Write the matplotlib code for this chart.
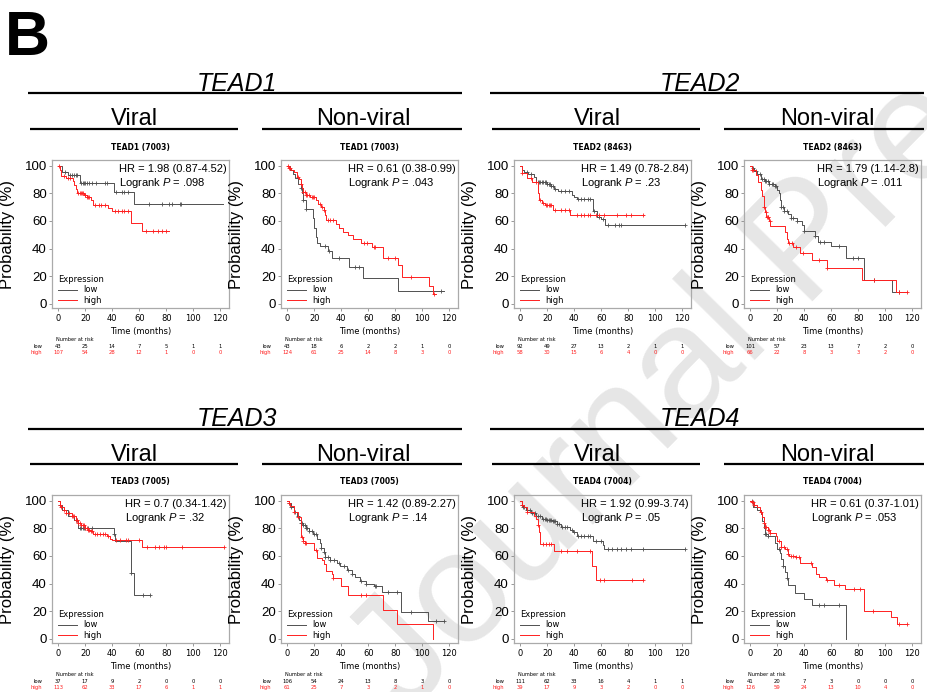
import numpy as np
import matplotlib
matplotlib.use("Agg")
import matplotlib.pyplot as plt
from matplotlib.lines import Line2D

# ---- data (time in months, survival in %) ----
risk_times = [0, 20, 40, 60, 80, 100, 120]

# TEAD1 viral
t1v_low_t = [0, 3, 7, 16, 41, 56, 122]
t1v_low_s = [100, 95.5, 93, 87.3, 81, 72.5, 72.5]
t1v_low_c = [5, 9, 10, 12, 13, 14, 17, 18, 19, 20, 21, 23, 25, 28, 35, 36, 43, 47, 49, 52, 67, 77, 82, 84, 90, 91]
t1v_high_t = [0, 1, 2, 6, 11, 12, 13, 14, 19, 21, 24, 26, 37, 40, 54, 62, 82]
t1v_high_s = [100, 97, 92.5, 91, 89, 86, 83, 80, 79, 77.5, 75, 71.5, 69, 67, 58.5, 52.5, 52.5]
t1v_high_c = [0.5, 4, 7, 9, 15, 16, 17, 17.5, 18, 19.5, 20, 21.5, 22, 23, 27, 30, 32, 35, 42, 44, 47, 49, 52, 65, 70, 74, 77, 80]
t1v_risk_low = [43, 25, 14, 7, 5, 1, 1]
t1v_risk_high = [107, 54, 28, 12, 1, 0, 0]

# TEAD1 non-viral
t1n_low_t = [0, 2, 4, 6, 8, 10, 11, 12, 14, 19, 20, 21, 22, 24, 30, 33, 46, 56, 82, 116]
t1n_low_s = [100, 97, 94, 91, 87, 84, 80, 75, 68.5, 62, 55, 48, 44, 41.5, 38, 33, 27, 18.5, 9, 9]
t1n_low_c = [10, 12, 14, 28, 31, 38, 50, 53, 114]
t1n_high_t = [0, 1, 3, 5, 7, 9, 10, 11, 12, 14, 17, 21, 23, 25, 27, 28, 29, 36, 38, 41, 45, 49, 55, 63, 71, 82, 85, 105, 108, 110]
t1n_high_s = [100, 98.5, 97, 95, 92, 90, 87, 84, 81, 79, 77, 75, 72.5, 70, 68, 64, 60.5, 58, 55, 52, 49.5, 47, 44, 41, 33.5, 28, 19.5, 13, 7, 7]
t1n_high_c = [0.5, 1.5, 2, 8, 10.5, 12, 13, 14, 15, 16, 18, 19, 20, 24, 26, 27.5, 30, 32, 34, 57, 59, 64, 65, 75, 80, 92, 109]
t1n_risk_low = [43, 18, 6, 2, 2, 1, 0]
t1n_risk_high = [124, 61, 25, 14, 8, 3, 0]

# TEAD2 viral
t2v_low_t = [0, 1, 3, 6, 10, 12, 20, 23, 25, 28, 38, 40, 42, 54, 57, 60, 63, 122]
t2v_low_s = [100, 97, 95, 94, 92, 88.4, 87, 85, 83, 81.4, 79, 77, 75.8, 67, 62.8, 61, 56.8, 56.8]
t2v_low_c = [5, 8, 13, 14, 15, 16, 17, 18, 19, 20, 21, 22, 23, 24, 26, 30, 33, 36, 43, 45, 47, 50, 52, 55, 58, 61, 65, 70, 73, 75, 122]
t2v_high_t = [0, 1, 5, 9, 13, 14, 16, 18, 24, 37, 92]
t2v_high_s = [100, 94.5, 91, 88, 80, 75, 73, 71.5, 68, 64, 64]
t2v_high_c = [1, 8, 12, 15, 17, 19, 20, 21, 22, 23, 26, 30, 33, 36, 42, 45, 47, 50, 52, 56, 58, 62, 72, 78, 82, 91]
t2v_risk_low = [92, 49, 27, 13, 2, 1, 1]
t2v_risk_high = [58, 30, 15, 6, 4, 0, 0]

# TEAD2 non-viral
t2n_low_t = [0, 1, 3, 5, 8, 11, 14, 18, 20, 21, 22, 23, 25, 28, 30, 35, 38, 40, 48, 50, 60, 71, 84, 105, 116]
t2n_low_s = [100, 98, 96, 94, 90, 88.5, 87, 85, 82, 80, 75, 70, 67, 65, 62, 60, 57, 53, 49, 45, 42, 33.5, 17, 8.5, 8.5]
t2n_low_c = [2, 4, 7, 9, 10, 11, 12, 13, 14, 16, 17, 18, 19, 23, 24, 25, 27, 30, 32, 35, 40, 48, 52, 55, 66, 76, 80, 92, 110]
t2n_high_t = [0, 1, 4, 6, 8, 9, 10, 11, 12, 14, 15, 26, 27, 28, 32, 37, 46, 57, 83, 108, 116]
t2n_high_s = [100, 97, 93, 88, 82.5, 78, 70, 66.5, 63, 60, 56.6, 52, 47, 43.7, 41, 37, 31.5, 25.7, 17, 8.5, 8.5]
t2n_high_c = [1, 2, 10.5, 11.5, 12.5, 13, 13.5, 14.5, 29, 31, 34, 39, 51, 57, 92, 110, 116]
t2n_risk_low = [101, 57, 23, 13, 7, 2, 0]
t2n_risk_high = [66, 22, 8, 3, 3, 2, 0]

# TEAD3 viral
t3v_low_t = [0, 1, 3, 7, 12, 15, 41, 42, 54, 56, 68]
t3v_low_s = [100, 96.5, 93, 89, 86, 80.5, 75.5, 71, 47.5, 31.5, 31.5]
t3v_low_c = [1, 13, 14, 16, 17, 18, 19, 20, 22, 25, 41, 54, 63, 68]
t3v_high_t = [0, 1, 2, 4, 6, 10, 13, 15, 17, 20, 22, 24, 26, 36, 38, 40, 62, 123]
t3v_high_s = [100, 97, 95, 93, 91, 89, 86, 84, 82, 80, 79, 78, 76, 74, 72, 71.3, 66.7, 66.7]
t3v_high_c = [1, 2, 4, 6, 8, 10, 11, 12, 13, 14, 15, 16, 17, 18, 19, 20, 21, 22, 23, 24, 25, 27, 29, 31, 33, 35, 37,
              43, 46, 50, 52, 60, 66, 72, 75, 78, 80, 92, 123]
t3v_risk_low = [37, 17, 9, 2, 0, 0, 0]
t3v_risk_high = [113, 62, 33, 17, 6, 1, 1]

# TEAD3 non-viral
t3n_low_t = [0, 1, 3, 5, 7, 9, 10, 12, 14, 16, 19, 22, 24, 25, 27, 28, 32, 37, 39, 44, 48, 50, 54, 58, 64, 70, 84, 104, 116]
t3n_low_s = [100, 98, 95, 92, 89, 86, 84, 82, 80, 78, 76, 72, 69, 66, 62.5, 59, 57, 55, 53, 50, 47, 45, 42, 40, 38, 34, 19.6, 12.6, 12.6]
t3n_low_c = [1, 3, 6, 8, 10, 11, 12, 13, 14, 15, 16, 18, 20, 21, 25, 27, 28, 30, 32, 35, 38, 42, 45, 48, 55, 58, 65, 66,
             75, 81, 92, 110, 116]
t3n_high_t = [0, 1, 2, 5, 8, 10, 12, 13, 20, 22, 26, 27, 29, 33, 34, 40, 45, 71, 81, 108]
t3n_high_s = [100, 98, 96, 92, 88, 73.4, 71, 69, 64, 58.8, 57, 54, 49, 47, 44.3, 38.3, 31.7, 20.8, 11, 0]
t3n_high_c = [1, 5, 8, 11, 12, 13, 14, 21, 34, 55, 58]
t3n_risk_low = [106, 54, 24, 13, 8, 3, 0]
t3n_risk_high = [61, 25, 7, 3, 2, 1, 0]

# TEAD4 viral
t4v_low_t = [0, 1, 2, 4, 8, 12, 16, 20, 24, 27, 30, 37, 39, 42, 54, 61, 62, 122]
t4v_low_s = [100, 97, 95, 93, 91, 89, 87, 86, 85, 83, 80.7, 79, 77, 74.2, 70.4, 68, 65.3, 65.3]
t4v_low_c = [1, 2, 3, 5, 7, 9, 11, 13, 15, 17, 18, 19, 20, 21, 22, 23, 24, 25, 26, 27, 29, 31, 33, 35, 38, 40, 43, 45,
             47, 50, 52, 56, 60, 65, 68, 72, 75, 78, 82, 91, 122]
t4v_high_t = [0, 1, 3, 5, 10, 12, 13, 14, 15, 25, 53, 56, 91]
t4v_high_s = [100, 97, 95, 92, 89, 87, 82, 77, 68.7, 63.4, 52.5, 42.2, 42.2]
t4v_high_c = [1, 5, 13, 17, 19, 21, 23, 30, 35, 42, 52, 59, 62, 83, 91]
t4v_risk_low = [111, 62, 33, 16, 4, 1, 1]
t4v_risk_high = [39, 17, 9, 3, 2, 0, 0]

# TEAD4 non-viral
t4n_low_t = [0, 2, 5, 8, 9, 10, 11, 13, 18, 20, 22, 23, 24, 26, 27, 28, 33, 40, 46, 71]
t4n_low_s = [100, 95.5, 93, 90, 85.5, 80, 75.8, 74, 69, 65, 62, 58, 52.8, 48, 43.8, 39, 33.5, 29, 24.2, 0]
t4n_low_c = [1, 11, 12, 13, 21, 24, 27, 51, 55, 66]
t4n_high_t = [0, 1, 3, 5, 7, 9, 10, 11, 13, 15, 19, 20, 23, 26, 28, 29, 34, 37, 46, 49, 51, 56, 62, 70, 84, 104, 109, 116]
t4n_high_s = [100, 99, 97, 95, 92, 88, 84, 81, 79, 76.5, 74, 71, 66.6, 65, 61.3, 60, 59, 54.5, 51.6, 47, 45, 42.4, 39,
              36.3, 20, 15.7, 10.4, 10.4]
t4n_high_c = [1, 2, 3, 8, 10, 11, 12, 13, 14, 15, 21, 23, 25, 27, 28, 30, 32, 34, 36, 45, 57, 66, 77, 81, 91, 110, 116]
t4n_risk_low = [41, 20, 7, 3, 0, 0, 0]
t4n_risk_high = [126, 59, 24, 13, 10, 4, 0]

genes = ["TEAD1", "TEAD2", "TEAD3", "TEAD4"]
probes = ["7003", "8463", "7005", "7004"]
hr_texts = ["HR = 1.98 (0.87-4.52)", "HR = 0.61 (0.38-0.99)", "HR = 1.49 (0.78-2.84)", "HR = 1.79 (1.14-2.8)",
            "HR = 0.7 (0.34-1.42)", "HR = 1.42 (0.89-2.27)", "HR = 1.92 (0.99-3.74)", "HR = 0.61 (0.37-1.01)"]
p_texts = [".098", ".043", ".23", ".011", ".32", ".14", ".05", ".053"]

panels = [
    (t1v_low_t, t1v_low_s, t1v_low_c, t1v_high_t, t1v_high_s, t1v_high_c, t1v_risk_low, t1v_risk_high),
    (t1n_low_t, t1n_low_s, t1n_low_c, t1n_high_t, t1n_high_s, t1n_high_c, t1n_risk_low, t1n_risk_high),
    (t2v_low_t, t2v_low_s, t2v_low_c, t2v_high_t, t2v_high_s, t2v_high_c, t2v_risk_low, t2v_risk_high),
    (t2n_low_t, t2n_low_s, t2n_low_c, t2n_high_t, t2n_high_s, t2n_high_c, t2n_risk_low, t2n_risk_high),
    (t3v_low_t, t3v_low_s, t3v_low_c, t3v_high_t, t3v_high_s, t3v_high_c, t3v_risk_low, t3v_risk_high),
    (t3n_low_t, t3n_low_s, t3n_low_c, t3n_high_t, t3n_high_s, t3n_high_c, t3n_risk_low, t3n_risk_high),
    (t4v_low_t, t4v_low_s, t4v_low_c, t4v_high_t, t4v_high_s, t4v_high_c, t4v_risk_low, t4v_risk_high),
    (t4n_low_t, t4n_low_s, t4n_low_c, t4n_high_t, t4n_high_s, t4n_high_c, t4n_risk_low, t4n_risk_high),
]

LOW_COLOR = "#505050"
HIGH_COLOR = "#ff2020"
ARIAL = "Liberation Sans"

plt.rcParams["font.family"] = "DejaVu Sans"
plt.rcParams["mathtext.fontset"] = "custom"
plt.rcParams["mathtext.rm"] = ARIAL
plt.rcParams["mathtext.it"] = ARIAL + ":italic"

W, H = 928, 692
fig = plt.figure(figsize=(W / 100, H / 100), dpi=100)
fig.patch.set_facecolor("white")


def fy(y):
    return 1 - y / H


def hline(x0, x1, y):
    fig.add_artist(Line2D([x0 / W, x1 / W], [fy(y), fy(y)], transform=fig.transFigure,
                          color="black", lw=1.6, solid_capstyle="butt"))


def km(ax, t, s, cens, color):
    t = np.asarray(t, float)
    s = np.asarray(s, float)
    ax.step(t, s, where="post", color=color, lw=0.7)
    idx = np.searchsorted(t, cens, side="right") - 1
    ax.plot(cens, s[idx], ls="none", marker="+", ms=3.5, mew=0.6, color=color)


# watermark behind everything
fig.text(405 / W, fy(716), "Journal Pre-proof", family=ARIAL, fontsize=115, color="#e6e6e6",
         rotation=45.5, rotation_mode="anchor", ha="left", va="baseline", zorder=-5)

fig.text(5 / W, fy(55), "B", family=ARIAL, fontweight="bold", fontsize=45, ha="left", va="baseline")

# group headers
gene_x = [237, 700]
sub_x = [134, 363, 597, 827]
sub_lines = [(30, 238), (262, 462), (492, 700), (724, 924)]
gene_lines = [(28, 462), (490, 924)]
row_gene_base = [91, 426]
row_gene_line = [93, 429]
row_sub_base = [125, 461]
row_sub_line = [129, 464]
for r in range(2):
    for g in range(2):
        fig.text(gene_x[g] / W, fy(row_gene_base[r]), genes[2 * r + g], family=ARIAL, style="italic",
                 fontsize=18, ha="center", va="baseline")
        hline(gene_lines[g][0], gene_lines[g][1], row_gene_line[r])
    for k in range(4):
        fig.text(sub_x[k] / W, fy(row_sub_base[r]), "Viral" if k % 2 == 0 else "Non-viral", family=ARIAL,
                 fontsize=17, ha="center", va="baseline")
        hline(sub_lines[k][0], sub_lines[k][1], row_sub_line[r])

lefts = [52, 281, 514, 744]
tops = [160, 495]
AW, AH = 177, 148

renderer = fig.canvas.get_renderer()
for i, (lt, ls, lc, ht, hs, hc, rl, rh) in enumerate(panels):
    r, k = divmod(i, 4)
    gene = 2 * r + k // 2
    L, T = lefts[k], tops[r]
    ax = fig.add_axes([L / W, fy(T + AH), AW / W, AH / H])
    ax.set_facecolor("none")

    km(ax, lt, ls, lc, LOW_COLOR)
    km(ax, ht, hs, hc, HIGH_COLOR)

    ax.set_xlim(-4.6, 126.5)
    ax.set_ylim(-3, 104)
    ax.set_xticks(risk_times)
    ax.set_xticklabels([str(v) for v in risk_times], fontsize=6)
    yt = [0, 20, 40, 60, 80, 100]
    ax.set_yticks(yt)
    ax.set_yticklabels([str(v) for v in yt], fontsize=9.5, family=ARIAL)
    ax.tick_params(axis="both", length=2.5, width=0.6, color="#888888")
    ax.tick_params(axis="x", pad=1.5)
    ax.tick_params(axis="y", pad=1.2)
    for sp in ax.spines.values():
        sp.set_color("#aaaaaa")
        sp.set_linewidth(0.9)

    ax.set_ylabel("Probability (%)", family=ARIAL, fontsize=12)
    ax.yaxis.set_label_coords(-37 / AW, 0.5)
    ax.set_xlabel("Time (months)", fontsize=6)
    ax.xaxis.set_label_coords(0.5, -19 / AH)

    ax.text(0.5, 1 + 10.5 / AH, f"{genes[gene]} ({probes[gene]})", transform=ax.transAxes, ha="center",
            va="baseline", fontsize=5.5, fontweight="bold")

    hr = ax.text(1 - 2.5 / AW, 1 - 12 / AH, hr_texts[i], transform=ax.transAxes, ha="right", va="baseline",
                 family=ARIAL, fontsize=8)
    bb = hr.get_window_extent(renderer)
    x_left = ax.transAxes.inverted().transform((bb.x0, bb.y0))[0]
    ax.text(x_left, 1 - 26 / AH, "Logrank $P$ = " + p_texts[i], transform=ax.transAxes, ha="left",
            va="baseline", family=ARIAL, fontsize=8)

    ax.legend(handles=[Line2D([], [], color=LOW_COLOR, lw=0.7), Line2D([], [], color=HIGH_COLOR, lw=0.7)],
              labels=["low", "high"], title="Expression", loc="lower left", bbox_to_anchor=(2.5 / AW, 0),
              frameon=False, fontsize=6, title_fontsize=6, handlelength=2.3, handletextpad=0.8,
              labelspacing=0.15, borderpad=0.3, borderaxespad=0.1, alignment="left")

    tr = ax.get_xaxis_transform()
    ax.text(-1.5, -31 / AH, "Number at risk", transform=tr, fontsize=3.6, ha="left", va="center")
    ax.text(-10 / AW, -38.5 / AH, "low", transform=ax.transAxes, fontsize=3.8, ha="right", va="center",
            color="black")
    ax.text(-10 / AW, -44.5 / AH, "high", transform=ax.transAxes, fontsize=3.8, ha="right", va="center",
            color=HIGH_COLOR)
    for x, a, b in zip(risk_times, rl, rh):
        ax.text(x, -38.5 / AH, str(a), transform=tr, fontsize=3.8, ha="center", va="center", color="black")
        ax.text(x, -44.5 / AH, str(b), transform=tr, fontsize=3.8, ha="center", va="center", color=HIGH_COLOR)

fig.savefig("out.png", dpi=100, facecolor="white")
